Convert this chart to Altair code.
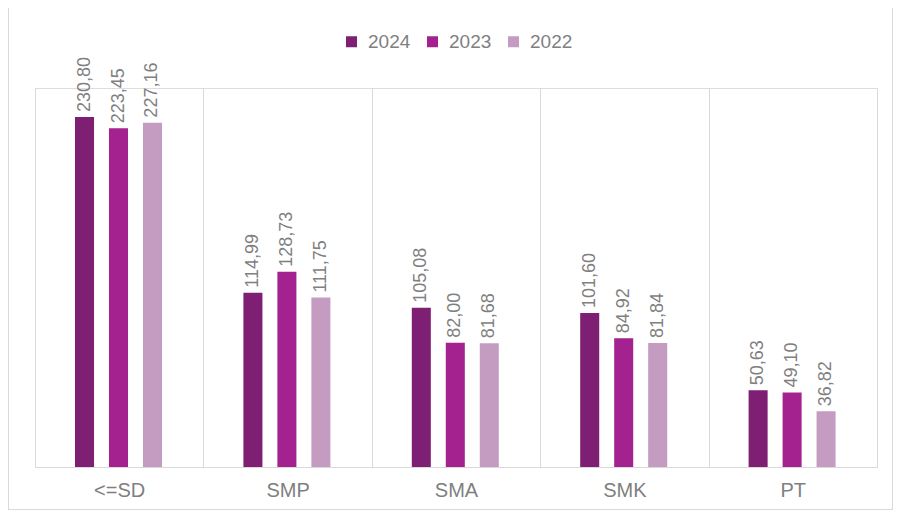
import altair as alt
import pandas as pd

categories = ["<=SD", "SMP", "SMA", "SMK", "PT"]
years = ["2024", "2023", "2022"]
v2024 = [230.80, 114.99, 105.08, 101.60, 50.63]
v2023 = [223.45, 128.73, 82.00, 84.92, 49.10]
v2022 = [227.16, 111.75, 81.68, 81.84, 36.82]
colors = ["#7E1F73", "#A3228F", "#C49CC1"]

rows = []
for y, vals in zip(years, [v2024, v2023, v2022]):
    for c, v in zip(categories, vals):
        rows.append({"cat": c, "year": y, "value": v,
                     "label": f"{v:.2f}".replace(".", ",")})
df = pd.DataFrame(rows)

W, H = 842, 379

base = alt.Chart(df).encode(
    x=alt.X("cat:N", sort=categories, title=None,
            scale=alt.Scale(paddingInner=0, paddingOuter=0),
            axis=alt.Axis(labelAngle=0, labelFontSize=20, labelColor="#7F7F7F",
                          labelFont="Liberation Sans", labelPadding=13,
                          ticks=False, domain=True, domainColor="#D9D9D9",
                          grid=True, gridColor="#D9D9D9", tickBand="extent")),
    xOffset=alt.XOffset("year:N", sort=years,
                        scale=alt.Scale(range=[40, 127], paddingInner=0.44, paddingOuter=0)),
    y=alt.Y("value:Q", scale=alt.Scale(domain=[0, 250], nice=False), axis=None),
)

bars = base.mark_bar().encode(
    color=alt.Color("year:N", sort=years,
                    scale=alt.Scale(domain=years, range=colors),
                    legend=alt.Legend(title=None, orient="none", direction="horizontal",
                                      legendX=307, legendY=-56,
                                      symbolType="square", symbolSize=121,
                                      symbolStrokeWidth=0,
                                      labelFontSize=19, labelColor="#7F7F7F",
                                      labelFont="Liberation Sans", columnPadding=12,
                                      labelOffset=7, padding=0))
)

labels = base.mark_text(angle=270, align="left", baseline="middle", dx=5,
                        fontSize=18, color="#7F7F7F", font="Liberation Sans").encode(
    text="label:N"
)

frame = alt.Chart(df).mark_rect(fill=None, stroke="#D9D9D9", strokeWidth=1).encode(
    x=alt.value(-26.5), x2=alt.value(857.5), y=alt.value(-80.5), y2=alt.value(421.5)
)

chart = (bars + labels + frame).properties(
    width=W, height=H,
    autosize=alt.AutoSizeParams(type="none"),
    padding={"left": 27, "top": 80, "right": 17, "bottom": 43},
).configure_view(stroke=None).configure(background="white")

chart.save("out.html", embed_options={"renderer": "svg", "actions": False})
